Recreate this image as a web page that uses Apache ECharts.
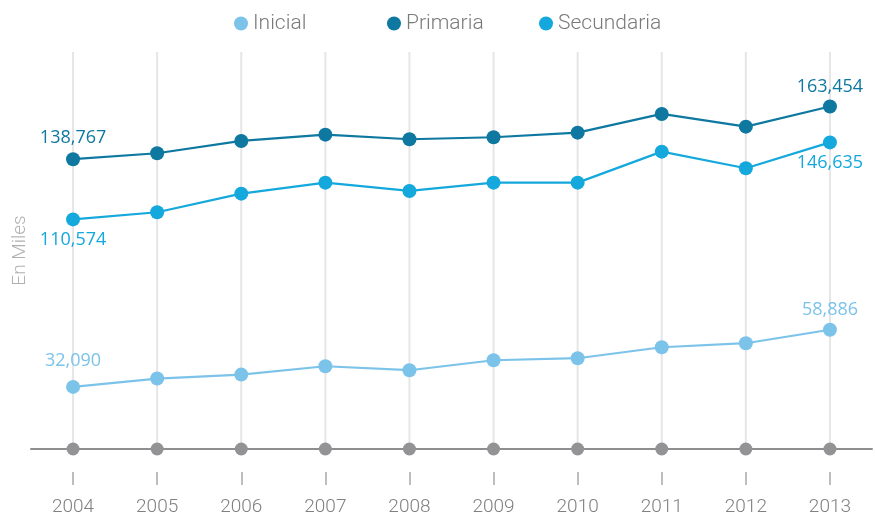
<!DOCTYPE html>
<html>
<head>
<meta charset="utf-8">
<style>
  html, body { margin: 0; padding: 0; background: #fff; }
  #chart { width: 875px; height: 517px; }
</style>
<script src="https://cdn.jsdelivr.net/npm/echarts@6/dist/echarts.min.js"></script>
</head>
<body>
<div id="chart"></div>
<script>
// años
var years = ['2004', '2005', '2006', '2007', '2008', '2009', '2010', '2011', '2012', '2013'];
// valores en miles
var inicial = [32090, 36000, 37850, 41780, 39910, 44590, 45530, 50680, 52560, 58886];
var primaria = [138767, 141570, 147330, 150280, 148130, 149060, 151220, 159980, 154030, 163454];
var secundaria = [110574, 113930, 122640, 127790, 123910, 127790, 127790, 142320, 134540, 146635];
var baseline = [0, 0, 0, 0, 0, 0, 0, 0, 0, 0];
var gridBars = [1, 1, 1, 1, 1, 1, 1, 1, 1, 1];
var legendNames = ['Inicial', 'Primaria', 'Secundaria'];
var legendLeft = [229, 382, 534];

var myChart = echarts.init(document.getElementById('chart'));

// solo se muestran las etiquetas del primer y último punto
function withLabels(values, color, firstPos, lastPos, firstDist) {
  return values.map(function (v, i) {
    var item = { value: v };
    if (i === 0 || i === values.length - 1) {
      item.label = {
        show: true,
        position: i === 0 ? firstPos : lastPos,
        distance: i === 0 ? firstDist : 4,
        color: color,
        fontFamily: 'Open Sans',
        fontSize: 18,
        formatter: function (p) { return p.value.toLocaleString('en-US'); }
      };
    }
    return item;
  });
}

function lineSeries(name, values, color, firstPos, lastPos, firstDist) {
  return {
    name: name,
    type: 'line',
    data: withLabels(values, color, firstPos, lastPos, firstDist),
    symbol: 'circle',
    symbolSize: 14,
    itemStyle: { color: color },
    lineStyle: { color: color, width: 2.2 },
    z: 4
  };
}

// una leyenda por serie para separarlas como en el original
var legends = legendNames.map(function (n, i) {
  return {
    data: [n],
    left: legendLeft[i],
    top: 8,
    icon: 'circle',
    itemWidth: 14,
    itemHeight: 14,
    itemGap: 6,
    textStyle: { color: '#7a7a7a', fontSize: 21, fontFamily: 'Roboto', fontWeight: 300 }
  };
});

var option = {
  animation: false,
  legend: legends,
  grid: { left: 31, right: 3, top: 52, bottom: 68, outerBoundsMode: 'none', containLabel: false },
  xAxis: [
    {
      type: 'category',
      data: years,
      boundaryGap: true,
      axisLine: { show: true, lineStyle: { color: '#8e8e91', width: 2 } },
      axisTick: { show: false },
      axisLabel: { show: false },
      splitLine: { show: false }
    },
    {
      type: 'category',
      data: years,
      position: 'bottom',
      offset: 23,
      boundaryGap: true,
      axisLine: { show: true, lineStyle: { color: '#ffffff', opacity: 0 } },
      axisTick: { show: true, alignWithLabel: true, length: 13, lineStyle: { color: '#a8a8a8', width: 1.5 } },
      axisLabel: { margin: 26, color: '#808080', fontSize: 19, fontFamily: 'Roboto', fontWeight: 300 }
    }
  ],
  yAxis: [
    {
      type: 'value',
      min: 3000,
      max: 189000,
      name: 'En Miles',
      nameLocation: 'middle',
      nameGap: 1,
      nameRotate: 90,
      nameTextStyle: { color: '#b0b0b0', fontSize: 19, fontFamily: 'Roboto', fontWeight: 300 },
      axisLine: { show: false },
      axisTick: { show: false },
      axisLabel: { show: false },
      splitLine: { show: false }
    },
    {
      type: 'value',
      min: 0,
      max: 1,
      show: false
    }
  ],
  series: [
    {
      // líneas verticales de fondo
      name: 'grid',
      type: 'bar',
      yAxisIndex: 1,
      data: gridBars,
      barWidth: 2,
      itemStyle: { color: '#e6e6e6' },
      silent: true,
      z: 1
    },
    {
      name: 'base',
      type: 'line',
      yAxisIndex: 1,
      data: baseline,
      symbol: 'circle',
      symbolSize: 13,
      itemStyle: { color: '#939396' },
      lineStyle: { width: 0 },
      z: 3
    },
    lineSeries('Inicial', inicial, '#7cc3ea', 'top', 'top', 10),
    lineSeries('Primaria', primaria, '#0e78a0', 'top', 'top', 5),
    lineSeries('Secundaria', secundaria, '#14a8dc', 'bottom', 'bottom', 4)
  ]
};

myChart.setOption(option);
window.addEventListener('resize', function () {
  myChart.resize();
});
</script>
</body>
</html>
